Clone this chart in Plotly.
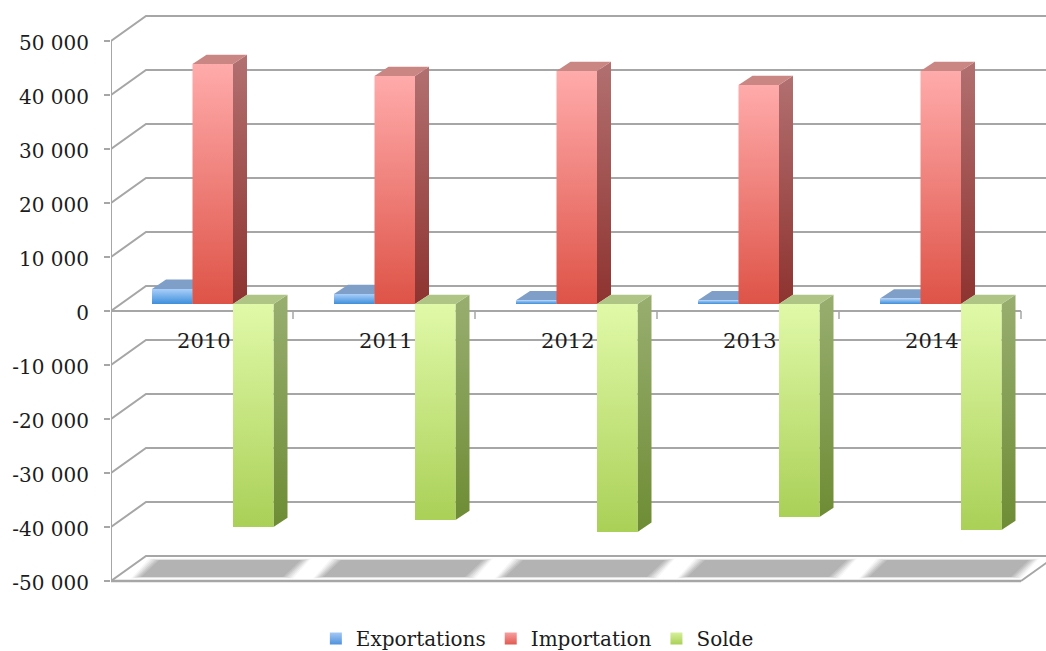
import plotly.graph_objects as go

years = ["2010", "2011", "2012", "2013", "2014"]
exportations = [2800, 1850, 700, 700, 1000]
importations = [44450, 42200, 43150, 40550, 43150]
solde = [-41300, -40000, -42200, -39450, -41850]
y_ticks = [50000, 40000, 30000, 20000, 10000, 0, -10000, -20000, -30000, -40000, -50000]
y_labels = ["50 000", "40 000", "30 000", "20 000", "10 000", "0", "-10 000", "-20 000", "-30 000", "-40 000", "-50 000"]

PX_X = 182.0          # pixels per category
PX_Y = 5.4 / 1000.0   # pixels per value unit
def dx(px): return px / PX_X
def dy(px): return px / PX_Y

GRID = "#A6A6A6"
FONT = "DejaVu Serif"
TXT = "#1c1c1c"
XMAX = 935 / PX_X
WALL_X, WALL_Y = dx(35), dy(25)
BAR_OFF, BAR_W = dx(41), dx(40.5)
PLANE_Y = dy(7)
DEPTH_X, DEPTH_Y = dx(14), dy(9.3)

fig = go.Figure()

def line(xs, ys, color=GRID, width=2):
    fig.add_trace(go.Scatter(x=xs, y=ys, mode="lines", showlegend=False, hoverinfo="skip",
                             line=dict(color=color, width=width)))

def poly(xs, ys, c0=None, c1=None, solid=None, opacity=1.0):
    kw = dict(fillcolor=solid) if solid else dict(
        fillgradient=dict(type="vertical", colorscale=[[0, c1], [1, c0]]))
    fig.add_trace(go.Scatter(x=xs + xs[:1], y=ys + ys[:1], mode="lines", fill="toself",
                             line=dict(width=0), showlegend=False, hoverinfo="skip",
                             opacity=opacity, **kw))

# walls: gridlines on side and back
for v in y_ticks:
    line([0, WALL_X, XMAX], [v, v + WALL_Y, v + WALL_Y])

# floor
line([0, 5], [-50000, -50000], width=2.5)
line([5, 5 + WALL_X], [-50000, -50000 + WALL_Y])

# floor shadows, soft edge built from layered polygons
for i in range(len(years)):
    for grow, op in [(6, 0.12), (4, 0.18), (2, 0.25), (0, 0.35), (-2, 0.5), (-4, 1.0)]:
        g_y = max(grow, 0) * 0.25
        b, t = -50000 + dy(4 - g_y), -50000 + dy(21 + g_y)
        xl = i + dx(26 - grow)
        xr = i + dx(176 + grow)
        s = dx(18)
        poly([xl, xr, xr + s, xl + s], [b, b, t, t], solid="#B3B3B3", opacity=op)

# front axes
line([0, 0], [-50000, 50000])
line([-0.04, 5], [0, 0])
for i in range(6):
    line([i, i], [0, -dy(8)], width=1.5)

# category labels
fig.add_trace(go.Scatter(x=[i + 0.51 for i in range(len(years))], y=[-dy(32)] * len(years),
                         text=years, mode="text", showlegend=False, hoverinfo="skip",
                         textposition="middle center",
                         textfont=dict(family=FONT, size=21, color=TXT)))

styles = [
    (exportations, "#ABCFFA", "#3E8FDB", "#7F9FC8", "#6F8DB5", "#3F6FA5"),
    (importations, "#FFABAB", "#DE5347", "#C98683", "#B27070", "#8E3330"),
    (solde, "#E0F9A8", "#AAD057", "#AEC585", "#98AE70", "#6E8C34"),
]

for i in range(len(years)):
    for s, (vals, f0, f1, top, s0, s1) in enumerate(styles):
        v = vals[i]
        x0 = i + BAR_OFF + s * BAR_W
        x1 = x0 + BAR_W
        hi, lo = max(v, 0) + PLANE_Y, min(v, 0) + PLANE_Y
        poly([x1, x1 + DEPTH_X, x1 + DEPTH_X, x1],
             [lo, lo + DEPTH_Y, hi + DEPTH_Y, hi], c0=s0, c1=s1)
        poly([x0, x1, x1 + DEPTH_X, x0 + DEPTH_X],
             [hi, hi, hi + DEPTH_Y, hi + DEPTH_Y], solid=top)
        poly([x0, x1, x1, x0], [lo, lo, hi, hi], c0=f0, c1=f1)

# legend entries
for name, c_top, c_bot in [("Exportations", "#A4C8F4", "#4F92DC"),
                           ("Importation", "#F7A0A0", "#E05A50"),
                           ("Solde", "#D6F09A", "#AAD057")]:
    fig.add_trace(go.Scatter(x=[None], y=[None], mode="markers", name=name,
                             marker=dict(symbol="square", size=12, color=c_top,
                                         gradient=dict(type="vertical", color=c_bot))))

fig.update_layout(
    width=1046, height=651, autosize=False,
    margin=dict(l=111, r=0, t=10, b=61, autoexpand=False),
    paper_bgcolor="white", plot_bgcolor="white",
    xaxis=dict(range=[0, XMAX], showgrid=False, zeroline=False, showticklabels=False,
               ticks="", showline=False, fixedrange=True),
    yaxis=dict(range=[-50000 - dy(9), 50000 + dy(31)], showgrid=False, zeroline=False,
               tickmode="array", tickvals=y_ticks, ticktext=y_labels, ticks="outside",
               ticklen=6, tickwidth=2, tickcolor=GRID, showline=False, ticklabelstandoff=11,
               ticklabelshift=2,
               tickfont=dict(family=FONT, size=20, color=TXT), fixedrange=True),
    legend=dict(orientation="h", x=0.456, xanchor="center", y=-0.05, yanchor="top",
                font=dict(family=FONT, size=20, color=TXT), itemwidth=30,
                bgcolor="rgba(0,0,0,0)"),
    showlegend=True,
)

fig.write_html("out.html", config={"displayModeBar": False},
               post_script="document.body.style.margin='0';document.body.style.overflow='hidden';")
